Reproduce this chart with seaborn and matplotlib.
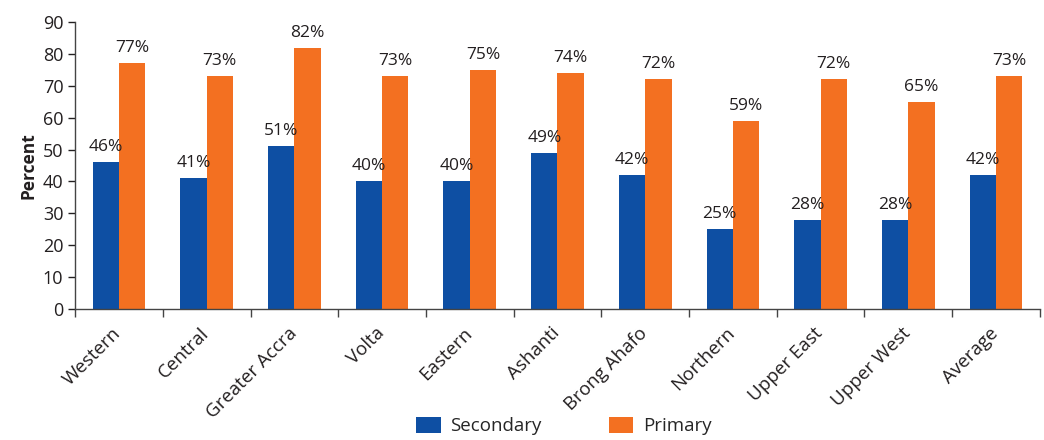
import matplotlib
matplotlib.use("Agg")
import matplotlib.pyplot as plt
import matplotlib.transforms as mtransforms
import seaborn as sns
import pandas as pd
import numpy as np
from matplotlib.patches import Patch

regions = ["Western", "Central", "Greater Accra", "Volta", "Eastern", "Ashanti",
           "Brong Ahafo", "Northern", "Upper East", "Upper West", "Average"]
secondary = [46, 41, 51, 40, 40, 49, 42, 25, 28, 28, 42]
primary = [77, 73, 82, 73, 75, 74, 72, 59, 72, 65, 73]
series = ["Secondary", "Primary"]
colors = ["#0E4FA3", "#F37021"]

df = pd.DataFrame({
    "Region": regions * 2,
    "Level": [series[0]] * len(regions) + [series[1]] * len(regions),
    "Percent": secondary + primary,
})

sns.set_theme(style="white")
plt.rcParams['font.family'] = ['Open Sans', 'DejaVu Sans']
text_color = "#231F20"

fig = plt.figure(figsize=(10.44, 4.4), dpi=100)
ax = fig.add_axes([0.072, 0.298, 0.924, 0.652])

sns.barplot(data=df, x="Region", y="Percent", hue="Level", order=regions,
            hue_order=series, palette=colors, width=0.6, gap=0, saturation=1,
            linewidth=0, edgecolor="none", ax=ax, legend=False)

for cont in ax.containers:
    vals = [int(round(b.get_height())) for b in cont]
    ax.bar_label(cont, labels=[f"{v}%" for v in vals], padding=5,
                 fontsize=12.5, color=text_color)

ax.set_ylim(0, 90)
ax.set_yticks(np.arange(0, 91, 10))
ax.set_xlim(-0.5, len(regions) - 0.5)
ax.set_xlabel("")
ax.set_ylabel("Percent", fontsize=12.5, fontweight="bold", color=text_color)
ax.tick_params(axis="y", labelsize=13, colors=text_color, length=5, width=1,
               direction="out", left=True)
ax.set_xticks(range(len(regions)))
ax.set_xticklabels(regions, rotation=45, ha="right", rotation_mode="anchor",
                   fontsize=13.5, color=text_color)
ax.tick_params(axis="x", which="major", length=0, pad=11)
offset = mtransforms.ScaledTranslation(-5 / 72, 0, fig.dpi_scale_trans)
for lab in ax.get_xticklabels():
    lab.set_transform(lab.get_transform() + offset)
ax.set_xticks(np.arange(-0.5, len(regions), 1.0), minor=True)
ax.tick_params(axis="x", which="minor", length=6, width=1, color="#444444",
               bottom=True, direction="out")
for s in ["top", "right"]:
    ax.spines[s].set_visible(False)
for s in ["left", "bottom"]:
    ax.spines[s].set_color("#444444")
    ax.spines[s].set_linewidth(1)

handles = [Patch(facecolor=c, edgecolor="none") for c in colors]
fig.legend(handles, series, loc="lower center", bbox_to_anchor=(0.54, -0.028),
           ncol=2, frameon=False, fontsize=13.5, columnspacing=3.6,
           handlelength=1.3, handleheight=1.0, handletextpad=0.5)

fig.savefig("out.png", dpi=100)
